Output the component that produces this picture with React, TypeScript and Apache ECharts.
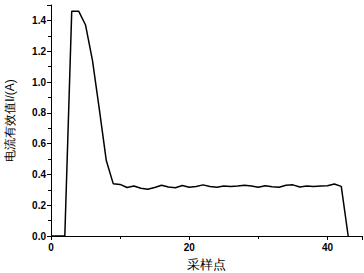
import React, { useEffect, useRef } from "react";
import * as echarts from "echarts";

const sampleIdx = Array.from({ length: 44 }, (_, i) => i);
const currentValues = [
  0, 0, 0, 1.46, 1.46, 1.37, 1.14, 0.82, 0.49, 0.34,
  0.335, 0.315, 0.325, 0.31, 0.303, 0.315, 0.33, 0.318, 0.313, 0.328,
  0.316, 0.322, 0.332, 0.322, 0.316, 0.325, 0.322, 0.324, 0.33, 0.325,
  0.316, 0.326, 0.32, 0.316, 0.33, 0.332, 0.318, 0.325, 0.322, 0.325,
  0.326, 0.338, 0.322, 0,
];
const xAxisName = "采样点";
const yAxisName = "电流有效值I/(A)";

export default function App() {
  const ref = useRef<HTMLDivElement>(null);
  useEffect(() => {
    if (!ref.current) return;
    const chart = echarts.init(ref.current, undefined, { renderer: "svg" });
    const axisCommon = {
      axisLine: { show: true, lineStyle: { color: "#000", width: 1 } },
      axisTick: { show: true, inside: false, length: 4, lineStyle: { color: "#000" } },
      minorTick: { show: true, splitNumber: 2, length: 3, lineStyle: { color: "#000" } },
      splitLine: { show: false },
      axisLabel: { color: "#000", fontSize: 10, fontWeight: "bold", fontFamily: "Liberation Sans, Arial" },
      nameTextStyle: { color: "#000", fontSize: 12, fontFamily: "Liberation Sans, Arial" },
    };
    chart.setOption({
      animation: false,
      backgroundColor: "#fff",
      grid: { left: 51, right: 2, top: 5, bottom: 37, outerBoundsMode: "none", containLabel: false },
      xAxis: {
        type: "value",
        min: 0,
        max: 45,
        interval: 20,
        name: xAxisName,
        nameLocation: "middle",
        nameGap: 22,
        ...axisCommon,
        nameTextStyle: { ...axisCommon.nameTextStyle, fontSize: 13 },
        axisLabel: { ...axisCommon.axisLabel, margin: 6, showMaxLabel: false },
      },
      yAxis: {
        type: "value",
        min: 0,
        max: 1.5,
        interval: 0.2,
        name: yAxisName,
        nameLocation: "middle",
        nameGap: 35,
        ...axisCommon,
        axisLabel: {
          ...axisCommon.axisLabel,
          margin: 5,
          formatter: (v: number) => v.toFixed(1),
          showMaxLabel: false,
        },
      },
      series: [
        {
          type: "line",
          data: sampleIdx.map((x, i) => [x, currentValues[i]]),
          symbol: "none",
          lineStyle: { color: "#000", width: 1.5 },
        },
      ],
    });
    return () => chart.dispose();
  }, []);
  return (
    <div
      ref={ref}
      style={{ position: "absolute", left: 0, top: 0, width: 364, height: 273 }}
    />
  );
}
